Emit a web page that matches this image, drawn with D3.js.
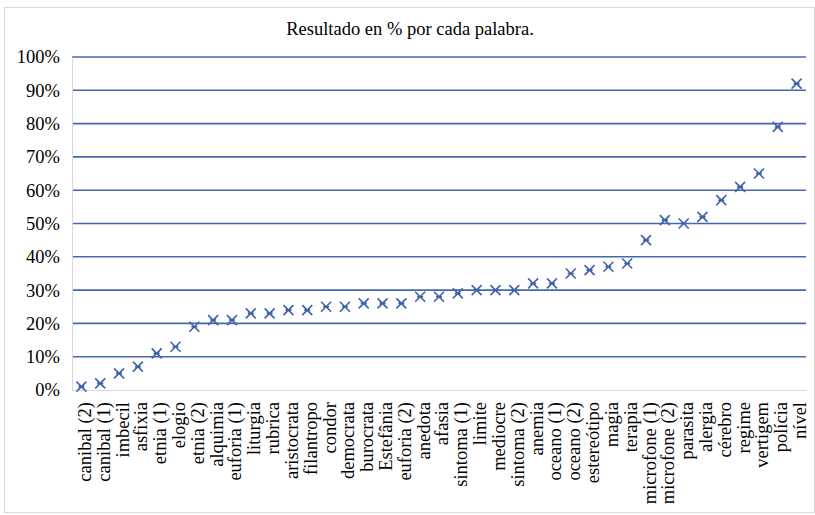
<!DOCTYPE html>
<html>
<head>
<meta charset="utf-8">
<script src="https://cdn.jsdelivr.net/npm/d3@7"></script>
<style>
  body { margin: 0; background: #fff; }
  text { font-family: "Liberation Serif", "Times New Roman", serif; fill: #000; }
</style>
</head>
<body>
<svg></svg>
<script>
// Words (x categories) and the result in % for each
const palabras = [
  "canibal (2)", "canibal (1)", "imbecil", "asfixia", "etnia (1)", "elogio",
  "etnia (2)", "alquimia", "euforia (1)", "liturgia", "rubrica", "aristocrata",
  "filantropo", "condor", "democrata", "burocrata", "Estefânia", "euforia (2)",
  "anedota", "afasia", "sintoma (1)", "limite", "mediocre", "sintoma (2)",
  "anemia", "oceano (1)", "oceano (2)", "estereótipo", "magia", "terapia",
  "microfone (1)", "microfone (2)", "parasita", "alergia", "cérebro", "regime",
  "vertigem", "polícia", "nível"
];
const resultados = [
  1, 2, 5, 7, 11, 13,
  19, 21, 21, 23, 23, 24,
  24, 25, 25, 26, 26, 26,
  28, 28, 29, 30, 30, 30,
  32, 32, 35, 36, 37, 38,
  45, 51, 50, 52, 57, 61,
  65, 79, 92
];
const yTicks = [0, 0.1, 0.2, 0.3, 0.4, 0.5, 0.6, 0.7, 0.8, 0.9, 1];
const titulo = "Resultado en % por cada palabra.";

const W = 815, H = 515;
const plot = { left: 72, right: 806, top: 57, bottom: 390 };

const svg = d3.select("svg")
  .attr("width", W)
  .attr("height", H);

// outer chart border
svg.append("rect")
  .attr("x", 4.5).attr("y", 7.5)
  .attr("width", 810).attr("height", 505)
  .attr("fill", "#fff")
  .attr("stroke", "#d9d9d9");

const x = d3.scaleBand()
  .domain(palabras)
  .range([plot.left, plot.right]);

const y = d3.scaleLinear()
  .domain([0, 1])
  .range([plot.bottom, plot.top]);

// gridlines
svg.append("g")
  .selectAll("line")
  .data(yTicks.slice(1))
  .enter()
  .append("line")
  .attr("x1", plot.left)
  .attr("x2", plot.right)
  .attr("y1", d => y(d))
  .attr("y2", d => y(d))
  .attr("stroke", "#4468b0")
  .attr("stroke-width", 1.6);

// y axis labels
svg.append("g")
  .attr("transform", `translate(${plot.left},0)`)
  .call(d3.axisLeft(y).tickValues(yTicks).tickFormat(d3.format(".0%")).tickSize(0).tickPadding(12))
  .call(g => g.select(".domain").attr("stroke", "#d9d9d9"))
  .selectAll("text")
  .style("font-size", "18.5px")
  .style("font-family", "Liberation Serif");

// x axis with rotated labels
svg.append("g")
  .attr("transform", `translate(0,${plot.bottom})`)
  .call(d3.axisBottom(x).tickSize(0).tickPadding(0))
  .call(g => g.select(".domain").attr("stroke", "#d9d9d9"))
  .selectAll("text")
  .style("font-size", "18.5px")
  .style("font-family", "Liberation Serif")
  .attr("transform", "rotate(-90)")
  .attr("text-anchor", "end")
  .attr("x", -12)
  .attr("y", 3)
  .attr("dy", "0.35em");

// X markers
const s = 5;
const marks = svg.append("g")
  .selectAll("path")
  .data(palabras.map((p, i) => ({ p, v: resultados[i] / 100 })))
  .enter()
  .append("path")
  .attr("transform", d => `translate(${x(d.p) + x.bandwidth() / 2},${y(d.v)})`)
  .attr("d", `M${-s},${-s}L${s},${s}M${-s},${s}L${s},${-s}M${-s * 0.6},0L${s * 0.6},0`)
  .attr("stroke", "#3f62ab")
  .attr("stroke-width", 1.6)
  .attr("fill", "none");

// title
svg.append("text")
  .attr("x", 410)
  .attr("y", 35)
  .attr("text-anchor", "middle")
  .style("font-size", "18.5px")
  .text(titulo);
</script>
</body>
</html>
